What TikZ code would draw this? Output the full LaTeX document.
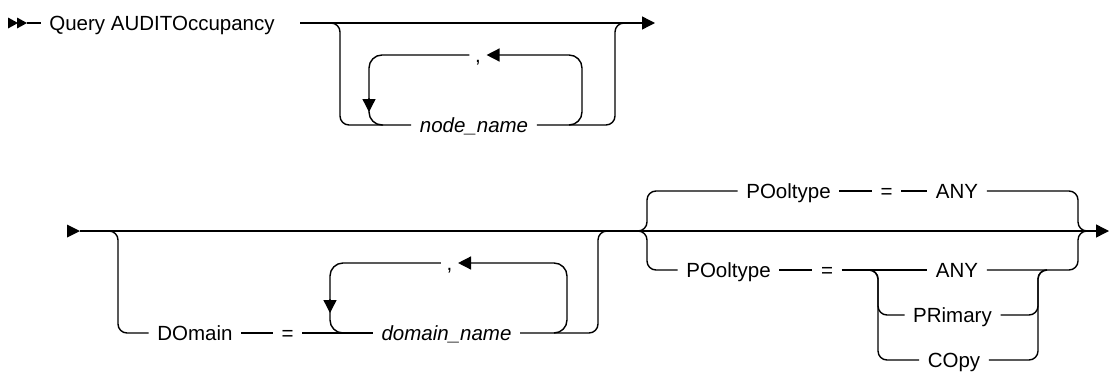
\documentclass[tikz,border=0pt]{standalone}
\usepackage{fontspec}
\setmainfont{Liberation Sans}
\usetikzlibrary{arrows.meta}
\begin{document}
\begin{tikzpicture}[x=1pt,y=-1pt,
  every path/.style={line width=1.4pt},
  rr/.style={rounded corners=9pt},
  lp/.style={rounded corners=13pt},
  tip/.style={-{Triangle[length=13pt,width=13pt]}},
  kw/.style={inner xsep=8pt, inner ysep=0pt, text height=15pt, text depth=0pt,
    font=\fontsize{20.5}{24}\selectfont, anchor=center},
  var/.style={kw, font=\fontsize{20.5}{24}\selectfont\itshape},
  commanode/.style={kw, inner xsep=5pt},
]
\useasboundingbox (0,0) rectangle (1110,372);

% ---------------- Row 1 ----------------
\coordinate (s1) at (8,23);
\coordinate (s1b) at (27,23);
\fill (8,17.5) -- (18,23) -- (8,28.5) -- cycle;
\fill (17,17.5) -- (27,23) -- (17,28.5) -- cycle;
\node[kw] (q) at (162,23) {Query AUDITOccupancy};
\draw (s1b) -- (q.west);

\coordinate (a1) at (300,23);
\coordinate (e1) at (655,23);
\draw[tip] (a1) -- (e1);

\node[var] (nn) at (474,125) {node\_name};
\coordinate (b1l) at (331,23);
\coordinate (v1l) at (340,23);
\coordinate (v1r) at (615,23);
\coordinate (b1r) at (624,23);
\draw[rr] (b1l) -- (v1l) |- (nn.west);
\draw[rr] (nn.east) -| (v1r) -- (b1r);

% repeat loop row 1
\node[commanode] (cm1) at (478,55) {,};
\coordinate (l1a) at (569,125);
\coordinate (l1b) at (582,55);
\coordinate (l1c) at (369,112);
\coordinate (l1e) at (369,98);
\coordinate (l1d) at (383,125);
\draw[lp,tip] (l1a) -| (l1b) -- (cm1.east);
\draw[lp,tip] (cm1.west) -| (l1c);
\draw[lp] (l1e) |- (l1d);

% ---------------- Row 2 ----------------
\coordinate (s2) at (67,231);
\coordinate (m2s) at (80,231);
\coordinate (m2e) at (1109,231);
\fill (67,224.5) -- (80,231) -- (67,237.5) -- cycle;
\draw[tip] (m2s) -- (m2e);

% DOmain branch
\node[kw] (dom) at (195,333) {DOmain};
\node[kw] (eq1) at (287.5,333) {=};
\node[var] (dn) at (446.5,333) {domain\_name};
\coordinate (b2l) at (109,231);
\coordinate (v2l) at (118,231);
\coordinate (v2r) at (598,231);
\coordinate (b2r) at (607,231);
\draw[rr] (b2l) -- (v2l) |- (dom.west);
\draw (dom.east) -- (eq1.west);
\draw (eq1.east) -- (dn.west);
\draw[rr] (dn.east) -| (v2r) -- (b2r);

% repeat loop row 2
\node[commanode] (cm2) at (449.5,263) {,};
\coordinate (l2a) at (554,333);
\coordinate (l2b) at (567,263);
\coordinate (l2c) at (330,313);
\coordinate (l2e) at (330,299);
\coordinate (l2d) at (344,333);
\draw[lp,tip] (l2a) -| (l2b) -- (cm2.east);
\draw[lp,tip] (cm2.west) -| (l2c);
\draw[lp] (l2e) |- (l2d);

% POoltype group
\node[kw] (pt1) at (788.5,191) {POoltype};
\node[kw] (eq2) at (886.5,191) {=};
\node[kw] (any1) at (957,191) {ANY};
\node[kw] (pt2) at (728.5,270) {POoltype};
\node[kw] (eq3) at (827,270) {=};
\node[kw] (any2) at (957,270) {ANY};
\node[kw] (pr) at (952.5,315) {PRimary};
\node[kw] (co) at (954,360) {COpy};

\coordinate (g1) at (637,231);
\coordinate (gt) at (647,191);
\coordinate (gb) at (647,270);
\coordinate (vr2) at (1078,231);
\coordinate (gr) at (1090,231);
\draw[rr] (g1) -| (gt) -- (pt1.west);
\draw[rr] (g1) -| (gb) -- (pt2.west);
\draw (pt1.east) -- (eq2.west);
\draw (eq2.east) -- (any1.west);
\draw[rr] (any1.east) -| (vr2) -- (gr);
\draw (pt2.east) -- (eq3.west);
\draw (eq3.east) -- (any2.west);
\draw[rr] (any2.east) -| (vr2) -- (gr);

\coordinate (ilt) at (869,270);
\coordinate (il) at (878,270);
\coordinate (ir) at (1038,270);
\coordinate (irt) at (1047,270);
\draw[rr] (ilt) -- (il) |- (pr.west);
\draw[rr] (ilt) -- (il) |- (co.west);
\draw[rr] (pr.east) -| (ir) -- (irt);
\draw[rr] (co.east) -| (ir) -- (irt);
\end{tikzpicture}
\end{document}
